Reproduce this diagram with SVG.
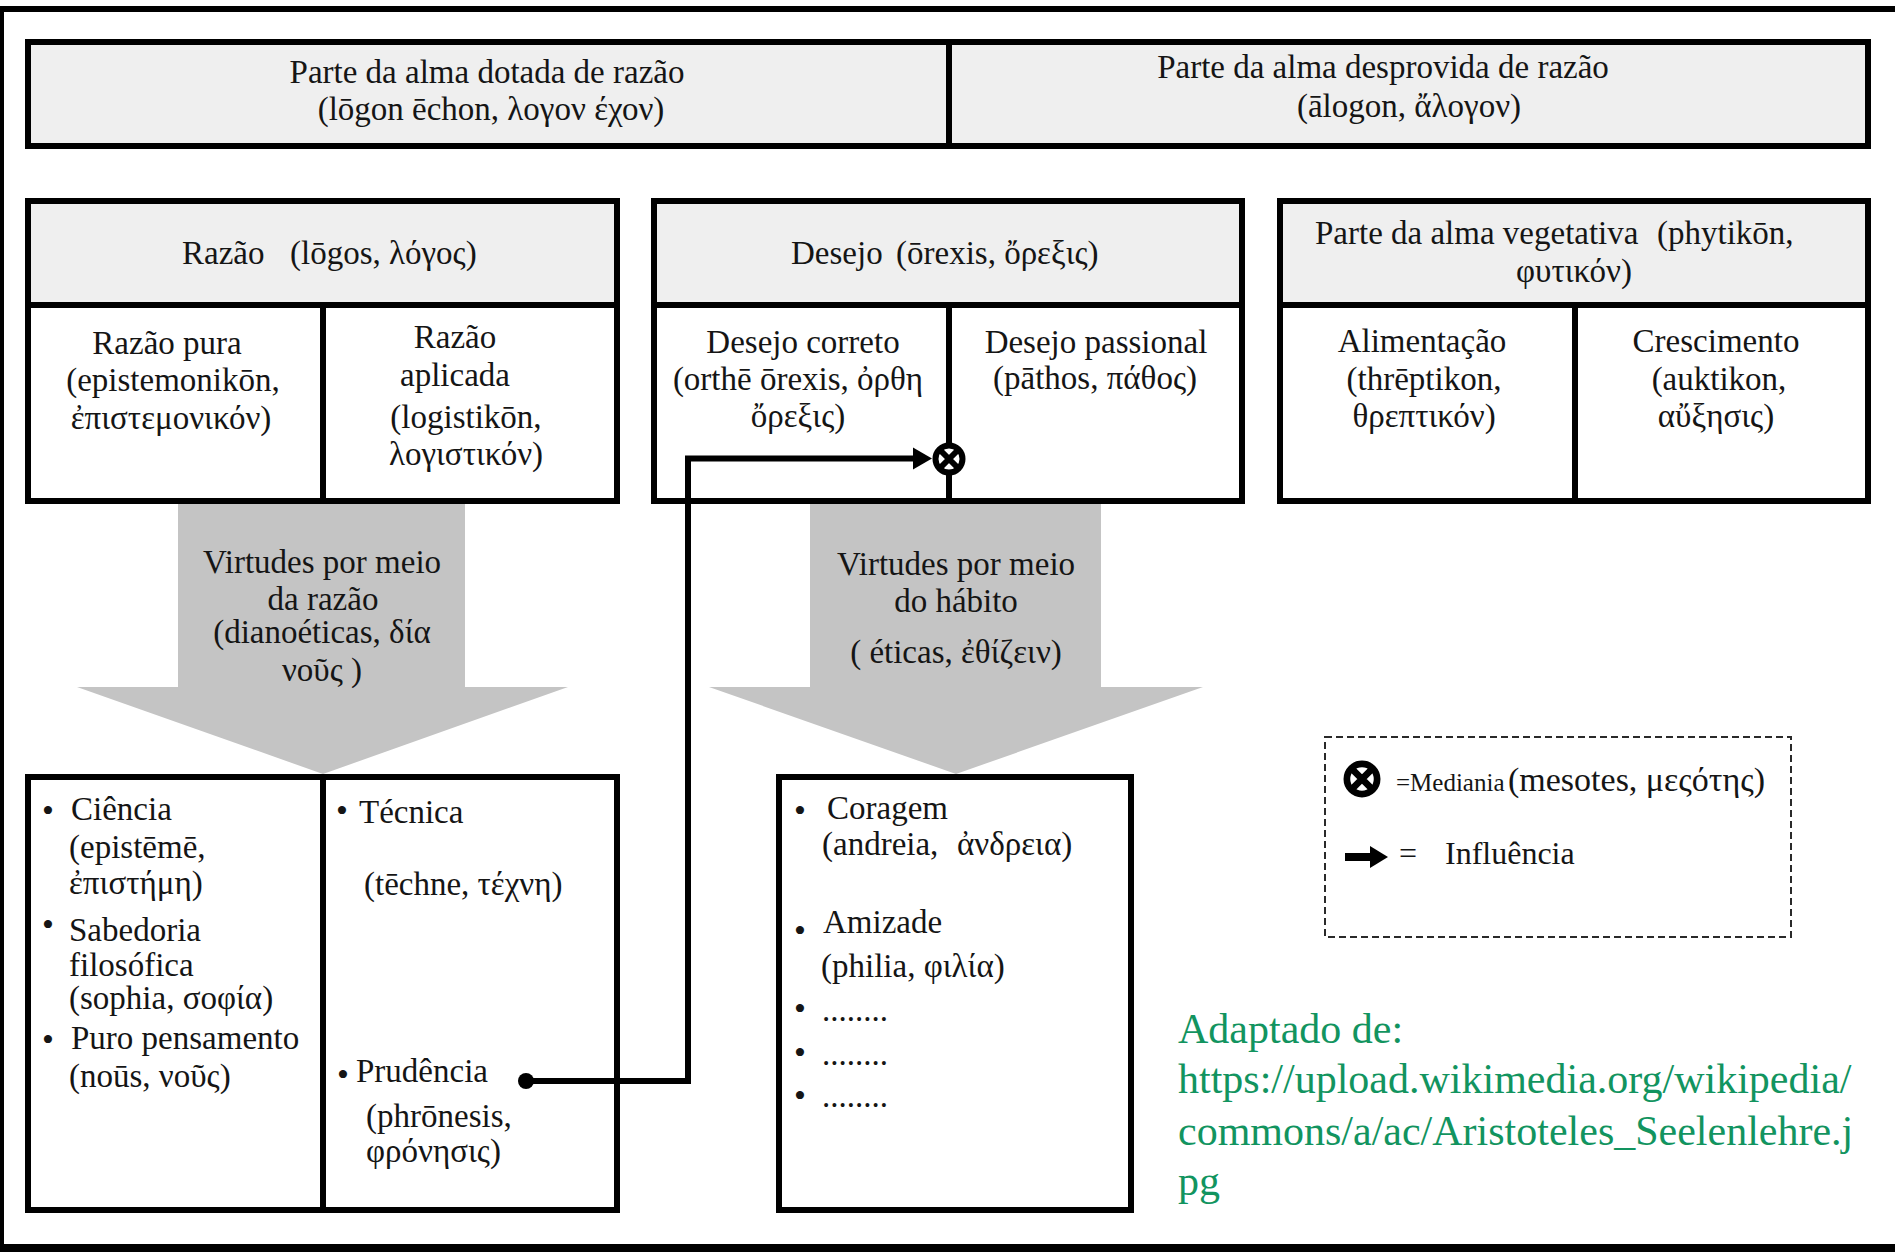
<svg xmlns="http://www.w3.org/2000/svg" width="1895" height="1254" viewBox="0 0 1895 1254">
<defs>
<style>
text { font-family: "Liberation Serif", "DejaVu Serif", serif; fill: #151515; font-size: 33px; }
.c { text-anchor: middle; }
.box { fill: #ffffff; stroke: #000000; stroke-width: 6; }
.hdr { fill: #efefef; stroke: #000000; stroke-width: 6; }
.ln { stroke: #000000; stroke-width: 6; fill: none; }
.garrow { fill: #c4c4c4; }
.green { fill: #12945f; font-size: 42px; }
.bul { font-size: 34px; text-anchor: middle; }
.small { font-size: 25px; }
.dash { fill: #ffffff; stroke: #2a2a2a; stroke-width: 2; stroke-dasharray: 7 4; }
</style>
<g id="otimes">
<circle r="13.5" fill="#ffffff" stroke="#000000" stroke-width="6"/>
<path d="M-9.5,-9.5 L9.5,9.5 M9.5,-9.5 L-9.5,9.5" stroke="#000000" stroke-width="6"/>
</g>
</defs>
<rect x="0" y="0" width="1895" height="1254" fill="#ffffff"/>
<g id="frame">
<line x1="0" y1="9" x2="1895" y2="9" stroke="#000" stroke-width="6"/>
<line x1="2" y1="6" x2="2" y2="1252" stroke="#000" stroke-width="4"/>
<line x1="0" y1="1248" x2="1895" y2="1248" stroke="#000" stroke-width="8"/>
</g>
<g id="top-header">
<rect class="hdr" x="28" y="42" width="1840" height="104"/>
<line class="ln" x1="949" y1="42" x2="949" y2="146"/>
<text class="c" x="487" y="83">Parte da alma dotada de razão</text>
<text class="c" x="491" y="120">(lōgon ēchon, λογον έχον)</text>
<text class="c" x="1383" y="78">Parte da alma desprovida de razão</text>
<text class="c" x="1409" y="117">(ālogon, ἄλογον)</text>
</g>
<g id="razao">
<rect class="box" x="28" y="201" width="589" height="300"/>
<rect class="hdr" x="28" y="201" width="589" height="104"/>
<line class="ln" x1="323" y1="305" x2="323" y2="501"/>
<text x="182" y="264">Razão <tspan x="290">(lōgos, λόγος)</tspan></text>
<text class="c" x="167" y="354">Razão pura</text>
<text class="c" x="173" y="391">(epistemonikōn,</text>
<text class="c" x="171" y="429">ἐπιστεμονικόν)</text>
<text class="c" x="455" y="348">Razão</text>
<text class="c" x="455" y="386">aplicada</text>
<text class="c" x="466" y="428">(logistikōn,</text>
<text class="c" x="466" y="465">λογιστικόν)</text>
</g>
<g id="desejo">
<rect class="box" x="654" y="201" width="588" height="300"/>
<rect class="hdr" x="654" y="201" width="588" height="104"/>
<line class="ln" x1="949" y1="305" x2="949" y2="501"/>
<text x="791" y="264">Desejo <tspan x="896">(ōrexis, ὄρεξις)</tspan></text>
<text class="c" x="803" y="353">Desejo correto</text>
<text class="c" x="798" y="390">(orthē ōrexis, ὀρθη</text>
<text class="c" x="798" y="427">ὄρεξις)</text>
<text class="c" x="1096" y="353">Desejo passional</text>
<text class="c" x="1095" y="389">(pāthos, πάθος)</text>
</g>
<g id="vegetativa">
<rect class="box" x="1280" y="201" width="588" height="300"/>
<rect class="hdr" x="1280" y="201" width="588" height="104"/>
<line class="ln" x1="1575" y1="305" x2="1575" y2="501"/>
<text x="1315" y="244">Parte da alma vegetativa <tspan x="1657">(phytikōn,</tspan></text>
<text class="c" x="1574" y="282">φυτικόν)</text>
<text class="c" x="1422" y="352">Alimentação</text>
<text class="c" x="1424" y="390">(thrēptikon,</text>
<text class="c" x="1424" y="427">θρεπτικόν)</text>
<text class="c" x="1716" y="352">Crescimento</text>
<text class="c" x="1719" y="390">(auktikon,</text>
<text class="c" x="1716" y="427">αὔξησις)</text>
</g>
<g id="arrow-dianoeticas">
<polygon class="garrow" points="178,504 465,504 465,687 568,687 323,774 77,687 178,687"/>
<text class="c" x="322" y="573">Virtudes por meio</text>
<text class="c" x="323" y="610">da razão</text>
<text class="c" x="322" y="643">(dianoéticas, δία</text>
<text class="c" x="322" y="681">νοῦς )</text>
</g>
<g id="arrow-eticas">
<polygon class="garrow" points="810,504 1101,504 1101,687 1203,687 956,774 709,687 810,687"/>
<text class="c" x="956" y="575">Virtudes por meio</text>
<text class="c" x="956" y="612">do hábito</text>
<text class="c" x="956" y="663">(  éticas, ἐθίζειν)</text>
</g>
<g id="virtudes-dianoeticas">
<rect class="box" x="28" y="777" width="589" height="433"/>
<line class="ln" x1="323" y1="777" x2="323" y2="1210"/>
<text class="bul" x="48" y="822">•</text>
<text x="71" y="820">Ciência</text>
<text x="69" y="858">(epistēmē,</text>
<text x="69" y="894">ἐπιστήμη)</text>
<text class="bul" x="48" y="936">•</text>
<text x="69" y="941">Sabedoria</text>
<text x="69" y="976">filosófica</text>
<text x="69" y="1009">(sophia, σοφία)</text>
<text class="bul" x="48" y="1051">•</text>
<text x="71" y="1049">Puro pensamento</text>
<text x="69" y="1087">(noūs, νοῦς)</text>
<text class="bul" x="342" y="822">•</text>
<text x="359" y="823">Técnica</text>
<text x="364" y="895">(tēchne, τέχνη)</text>
<text class="bul" x="343" y="1086">•</text>
<text x="356" y="1082">Prudência</text>
<text x="366" y="1127">(phrōnesis,</text>
<text x="366" y="1162">φρόνησις)</text>
</g>
<g id="virtudes-eticas">
<rect class="box" x="779" y="777" width="352" height="433"/>
<text class="bul" x="800" y="822">•</text>
<text x="827" y="819">Coragem</text>
<text x="822" y="855">(andreia, <tspan x="957">ἀνδρεια)</tspan></text>
<text class="bul" x="800" y="942">•</text>
<text x="823" y="933">Amizade</text>
<text x="821" y="977">(philia, φιλία)</text>
<text class="bul" x="800" y="1020">•</text>
<text x="822" y="1021">........</text>
<text class="bul" x="800" y="1064">•</text>
<text x="822" y="1065">........</text>
<text class="bul" x="800" y="1107">•</text>
<text x="822" y="1107">........</text>
</g>
<g id="connectors">
<path class="ln" d="M526,1081 H688 V458.5 H916"/>
<circle cx="526" cy="1081" r="8" fill="#000"/>
<polygon points="913,447.5 932,458.5 913,469.5" fill="#000"/>
<use href="#otimes" x="949" y="459"/>
</g>
<g id="legend">
<rect class="dash" x="1325" y="737" width="466" height="200"/>
<use href="#otimes" transform="translate(1362,779) scale(1.12)"/>
<text class="small" x="1396" y="791">=Mediania</text>
<text x="1508" y="791" style="font-size:34px">(mesotes, μεςότης)</text>
<rect x="1345" y="853" width="28" height="8" fill="#000"/>
<polygon points="1370,846 1388,857 1370,868" fill="#000"/>
<text x="1399" y="864" style="font-size:32px">=</text>
<text x="1445" y="864" style="font-size:32px">Influência</text>
</g>
<g id="source">
<text class="green" x="1178" y="1043">Adaptado de:</text>
<text class="green" x="1178" y="1093">https://upload.wikimedia.org/wikipedia/</text>
<text class="green" x="1178" y="1145">commons/a/ac/Aristoteles_Seelenlehre.j</text>
<text class="green" x="1178" y="1195">pg</text>
</g>
</svg>
